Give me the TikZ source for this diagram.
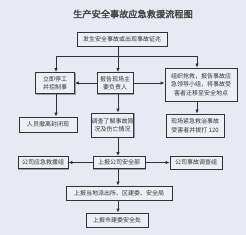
\documentclass[tikz,border=0pt]{standalone}
\usepackage{fontspec}
\newfontfamily\cjk[AutoFakeBold=2.5]{Noto Sans CJK SC}
\usetikzlibrary{arrows.meta}
\definecolor{bg}{HTML}{E8EAF3}
\definecolor{boxfill}{HTML}{EEEFF6}
\definecolor{ink}{HTML}{333333}
\definecolor{shade}{HTML}{9A9CA6}
\begin{document}
\begin{tikzpicture}[x=1pt,y=-1pt,
  box/.style={draw=ink, line width=0.8pt, fill=boxfill, inner sep=0pt, align=center,
              font=\cjk\fontsize{6}{8.5}\selectfont, text=ink,
              preaction={draw=shade, line width=0.9pt, transform canvas={shift={(0.8pt,-0.8pt)}}}},
  arr/.style={draw=ink, line width=0.8pt, -{Latex[length=4pt,width=3.5pt]}},
  ln/.style={draw=ink, line width=0.8pt}]
\fill[bg] (0,0) rectangle (246,235);
\useasboundingbox (0,0) rectangle (246,235);

\node[font=\cjk\bfseries\fontsize{9.2}{9.2}\selectfont, text=ink!90] (title) at (133,14) {生产安全事故应急救援流程图};

\node[box, minimum width=90pt, minimum height=14pt] (top) at (122,39) {发生安全事故或出现事故征兆};

\node[box, minimum width=39pt, minimum height=21pt] (L1) at (55,83) {立即停工\\并控制事};
\node[box, minimum width=36pt, minimum height=21pt] (C1) at (115,83) {报告现场主\\要负责人};
\node[box, minimum width=72pt, minimum height=33pt] (R1) at (201,84.5) {组织抢救，报告事故应\\急领导小组，将事故受\\害者迁移至安全地点};

\node[box, minimum width=58pt, minimum height=15pt] (L2) at (48,124.5) {人员撤离封闭现};
\node[box, minimum width=40pt, minimum height=24pt] (C2) at (112.5,125) {调查了解事故简\\况及伤亡情况};
\node[box, minimum width=58pt, minimum height=23pt] (R2) at (195,125.5) {现场紧急救治事故\\受害者并拨打 120};

\node[box, minimum width=52pt, minimum height=12pt] (C3) at (119,162.5) {上报公司安全部};
\node[box, minimum width=50pt, minimum height=12pt] (LL) at (43,162.5) {公司应急救援组};
\node[box, minimum width=52pt, minimum height=13pt] (RR) at (196,162.5) {公司事故调查组};

\node[box, minimum width=106pt, minimum height=14pt] (C4) at (119,193) {上报当地派出所、区建委、安全局};
\node[box, minimum width=62pt, minimum height=14pt] (C5) at (117,220) {上报市建委安全处};

\coordinate (J) at (118,56);
\coordinate (JL) at (56,56);
\coordinate (JR) at (197,56);

\draw[ln] (top.south -| J) -- (J);
\draw[ln] (JL) -- (JR);
\draw[arr] (JL) -- (JL |- L1.north);
\draw[arr] (J) -- (J |- C1.north);
\draw[arr] (JR) -- (JR |- R1.north);

\draw[arr] (C1.west) -- (L1.east);
\draw[arr] (C1.east) -- (C1.east -| R1.west);

\draw[arr] (L1.south -| JL) -- (L2.north -| JL);
\draw[arr] (C1.south -| J) -- (C2.north -| J);
\draw[arr] (R1.south -| JR) -- (R2.north -| JR);

\draw[arr] (C2.south -| J) -- (C3.north -| J);
\draw[arr] (C3.west) -- (LL.east);
\draw[arr] (C3.east) -- (RR.west);
\draw[arr] (C3.south -| J) -- (C4.north -| J);
\draw[arr] (C4.south -| J) -- (C5.north -| J);
\end{tikzpicture}
\end{document}
